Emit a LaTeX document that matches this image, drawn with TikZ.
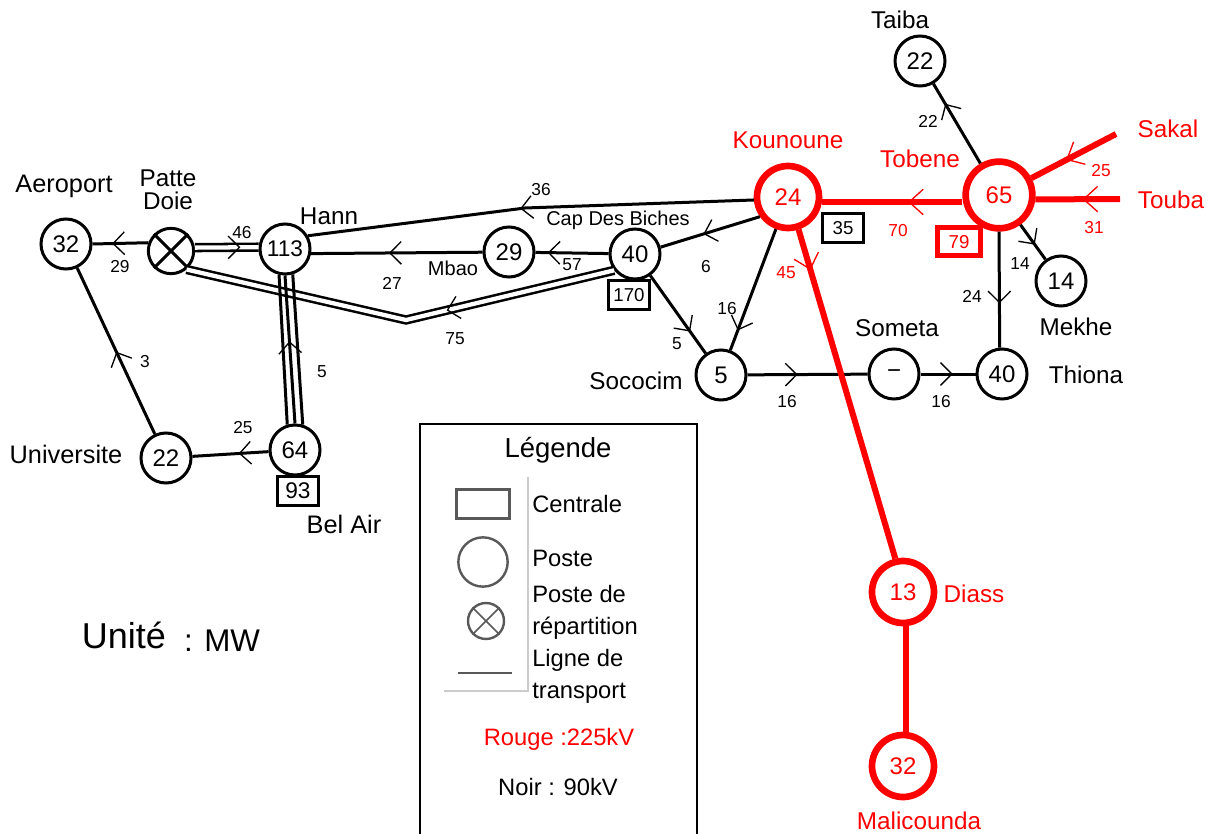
\documentclass[tikz,border=0pt]{standalone}
\usepackage{fontspec}
\setmainfont{Liberation Sans}
\usetikzlibrary{decorations.markings}

\begin{document}
\begin{tikzpicture}[
    x=0.75pt, y=-0.75pt,
    poste/.style={circle, draw, fill=white, line width=2.25pt, minimum size=37.5pt, inner sep=0pt, font=\fontsize{18}{20}\selectfont},
    posterouge/.style={poste, draw=red, text=red, line width=5pt, minimum size=46.5pt},
    centrale/.style={draw, fill=white, line width=1.9pt, minimum width=31pt, minimum height=21.5pt, inner sep=0pt, font=\fontsize{14}{16}\selectfont},
    nom/.style={font=\fontsize{18.2}{20}\selectfont, inner sep=0pt},
    nomgrand/.style={font=\fontsize{19}{20}\selectfont, inner sep=0pt},
    nompetit/.style={font=\fontsize{15}{18}\selectfont, inner sep=0pt},
    valeur/.style={font=\fontsize{13}{15}\selectfont, inner sep=0pt},
    legende/.style={font=\fontsize{17.8}{24}\selectfont, inner sep=0pt, align=left, anchor=west},
    symbole/.style={draw=black!65, line width=1.8pt, inner sep=0pt},
    noir/.style={line width=2.25pt},
    rouge/.style={draw=red, line width=4.5pt},
    ligne2/.style={line width=1.9pt, double, double distance=3.2pt},
    chevron/.style={line width=1pt},
    flow/.style={postaction={decorate, decoration={markings, mark=at position #1 with {\draw[chevron] (-8.5pt,8.5pt) -- (0pt,0pt) -- (-8.5pt,-8.5pt);}}}},
    flowrouge/.style={postaction={decorate, decoration={markings, mark=at position #1 with {\draw[chevron, red] (-10.5pt,9.5pt) -- (0pt,0pt) -- (-10.5pt,-9.5pt);}}}}
]

\path[use as bounding box, fill=white] (0,0) rectangle (1214,834);

% --- Postes 90kV ---
\node[poste] (aero) at (66,244) {32};
\node[poste, minimum size=34pt] (patte) at (171,251) {};
\node[poste, font=\fontsize{17}{20}\selectfont] (hann) at (285,249) {113};
\node[poste] (mbao) at (509,252) {29};
\node[poste] (cap) at (635,254) {40};
\node[poste] (taiba) at (920,61) {22};
\node[poste] (mekhe) at (1061,281) {14};
\node[poste] (thiona) at (1002,374) {40};
\node[poste] (someta) at (894,374) {−};
\node[poste] (sococim) at (721,375) {5};
\node[poste] (univ) at (166,458) {22};
\node[poste] (belair) at (295,450) {64};

% --- Postes 225kV ---
\node[posterouge] (kou) at (788,197) {24};
\node[posterouge, minimum size=50pt] (tob) at (999,195) {65};
\node[posterouge] (diass) at (903,592) {13};
\node[posterouge] (mali) at (903,766) {32};

% --- Centrales ---
\node[centrale, font=\fontsize{17}{20}\selectfont] (c93) at (298,491) {93};
\node[centrale] (c170) at (629,295) {170};
\node[centrale] (c35) at (843,228) {35};
\node[centrale, draw=red, text=red, line width=3.75pt, minimum width=32pt, minimum height=21pt] (c79) at (959,242) {79};

% --- Croix du poste de repartition ---
\draw[noir] (patte.north east) -- (patte.south west);
\draw[noir] (patte.north west) -- (patte.south east);

% --- Points libres ---
\coordinate (coude1) at (406,320);
\coordinate (coude2) at (525,208);
\coordinate (sakalfin) at (1116,134);
\coordinate (toubafin) at (1120,199);

% --- Lignes 90kV ---
\draw[ligne2] (patte.8) -- (hann.176);
\draw[flow=.7, draw=none] (patte.8) -- (hann.176);
\draw[ligne2] (cap.218) -- (coude1) -- (patte.-50);
\draw[flow=.39, draw=none] (cap.218) -- (coude1) -- (patte.-50);
\draw[noir, flow=.63] (patte.160) -- (aero.east);
\draw[noir, flow=.49] (univ) -- (aero);
\draw[noir, flow=.38] (belair) -- (univ);
\draw[noir] (belair.107) -- (hann.-103);
\draw[noir, flow=.55] (belair.90) -- (hann.-90);
\draw[noir] (belair.73) -- (hann.-73);
\draw[noir, flow=.52] (kou.185) -- (coude2) -- (hann.30);
\draw[noir, flow=.82] (cap) -- (mbao);
\draw[noir, flow=.54] (mbao) -- (hann.-10);
\draw[noir, flow=.56] (kou.215) -- (cap.15);
\draw[noir, flow=.71] (cap) -- (sococim);
\draw[noir, flow=.83] (kou) -- (sococim);
\draw[noir, flow=.41] (sococim) -- (someta);
\draw[noir, flow=.57] (someta) -- (thiona);
\draw[noir, flow=.61] (tob.south) -- (thiona.95);
\draw[noir, flow=.74] (tob) -- (taiba);
\draw[noir, flow=.55] (tob) -- (mekhe);

% --- Lignes 225kV ---
\draw[rouge, flowrouge=.38] (tob.west |- 0,202) -- (kou.east |- 0,202);
\draw[rouge, flowrouge=.58] (sakalfin) -- (tob);
\draw[rouge, flowrouge=.43] (toubafin) -- (tob.-7);
\draw[rouge, flowrouge=.12] (kou.-72) -- (diass.103);
\draw[rouge] (diass.south) ++(3,0) coordinate (diassbas) -- (diassbas |- mali.north);

% --- Noms des postes ---
\node[nomgrand] (nAero) at (64,186) {Aeroport};
\node[nom, align=center] (nPatte) at (168,190) {Patte\\[-3pt]Doie};
\node[nom] (nHann) at (329,216) {Hann};
\node[nompetit] (nMbao) at (453,268) {Mbao};
\node[nompetit] (nCap) at (618,220) {Cap Des Biches};
\node[nom] (nTaiba) at (900,20) {Taiba};
\node[nom] (nSometa) at (897,328) {Someta};
\node[nom] (nMekhe) at (1076,327) {Mekhe};
\node[nom] (nThiona) at (1086,375) {Thiona};
\node[nom] (nSococim) at (636,381) {Sococim};
\node[nomgrand] (nUniv) at (66,454) {Universite};
\node[nomgrand] (nBelair) at (344,524) {Bel Air};
\node[nom, red] (nKou) at (788,140) {Kounoune};
\node[nom, red] (nTob) at (920,159) {Tobene};
\node[nom, red] (nSakal) at (1168,129) {Sakal};
\node[nom, red] (nTouba) at (1171,200) {Touba};
\node[nom, red] (nDiass) at (974,594) {Diass};
\node[nom, red] (nMali) at (919,821) {Malicounda};

% --- Valeurs des flux ---
\foreach \px/\py/\val [count=\n] in {120/267/29, 145/362/3, 242/233/46, 322/372/5, 243/428/25, 392/283/27, 541/190/36, 572/265/57, 455/339/75, 706/267/6, 677/344/5, 727/309/16, 787/402/16, 941/402/16, 928/121/22, 1020/264/14, 972/296/24}
    \node[valeur] (flux\n) at (\px,\py) {\val};
\foreach \px/\py/\val [count=\n] in {786/273/45, 898/231/70, 1101/171/25, 1094/228/31}
    \node[valeur, red] (fluxr\n) at (\px,\py) {\val};

% --- Legende ---
\draw[line width=1.8pt] (420,834) -- (420,424) -- (697,424) -- (697,834);
\draw[black!20, line width=1pt] (528,477) -- (528,691) -- (444,691);
\node[font=\fontsize{20.6}{24}\selectfont, inner sep=0pt] (titre) at (558,450) {Légende};
\node[symbole, minimum width=40pt, minimum height=22pt] (symC) at (483,504) {};
\node[symbole, circle, minimum size=37pt] (symP) at (483,562) {};
\node[symbole, circle, minimum size=27pt] (symR) at (486,621) {};
\draw[black!65, line width=1.2pt] (symR.north east) -- (symR.south west);
\draw[black!65, line width=1.2pt] (symR.north west) -- (symR.south east);
\coordinate (symL1) at (458,673);
\coordinate (symL2) at (512,673);
\draw[black!65, line width=2pt] (symL1) -- (symL2);
\node[legende] (legC) at (532,504) {Centrale};
\node[legende] (legP) at (532,558) {Poste};
\node[legende] (legR) at (532,612) {Poste de\\répartition};
\node[legende] (legL) at (532,676) {Ligne de\\transport};
\node[font=\fontsize{17.8}{20}\selectfont, text=red, inner sep=0pt] (rouge) at (559,739) {Rouge :225kV};
\node[font=\fontsize{17.8}{20}\selectfont, inner sep=0pt] (noir) at (558,787) {Noir : 90kV};

% --- Unite ---
\node[font=\fontsize{27}{30}\selectfont, inner sep=0pt] (unite) at (124,635) {Unité};
\node[font=\fontsize{23.5}{26}\selectfont, inner sep=0pt] (mw) at (222,641) {: MW};

\end{tikzpicture}
\end{document}
